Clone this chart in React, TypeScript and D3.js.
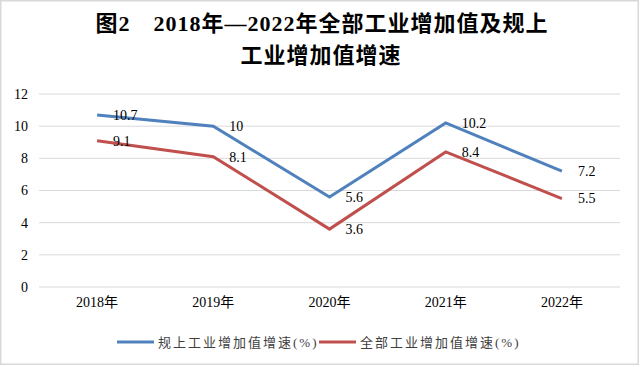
import * as React from 'react';
import { useEffect, useRef } from 'react';
import * as d3 from 'd3';

const years = ['2018年', '2019年', '2020年', '2021年', '2022年'];
const aboveScale = [10.7, 10, 5.6, 10.2, 7.2];
const allIndustry = [9.1, 8.1, 3.6, 8.4, 5.5];
const yTicks = [0, 2, 4, 6, 8, 10, 12];
const seriesNames = ['规上工业增加值增速(%)', '全部工业增加值增速(%)'];
const seriesColors = ['#4F81BD', '#C0504D'];

const W = 640, H = 367;
const serif = '"Liberation Serif", "Times New Roman", "Noto Sans CJK SC", serif';

export default function App() {
  const ref = useRef<SVGSVGElement | null>(null);

  useEffect(() => {
    if (!ref.current) return;
    const svg = d3.select(ref.current);
    svg.selectAll('*').remove();

    svg.append('rect')
      .attr('x', 0.75).attr('y', 0.75)
      .attr('width', 637.5).attr('height', 363.5)
      .attr('fill', '#fff')
      .attr('stroke', '#d9d9d9').attr('stroke-width', 1.5);

    // title
    const title = svg.append('g')
      .attr('font-family', serif)
      .attr('font-weight', 'bold')
      .attr('font-size', 22)
      .attr('letter-spacing', 1)
      .attr('fill', '#000')
      .attr('text-anchor', 'middle');
    title.append('text').attr('x', 322).attr('y', 31).attr('xml:space', 'preserve')
      .text('图2　2018年—2022年全部工业增加值及规上');
    title.append('text').attr('x', 321).attr('y', 63).text('工业增加值增速');

    const x = d3.scaleBand<string>().domain(years).range([39, 620]);
    const y = d3.scaleLinear().domain([0, 12]).range([287, 94]);

    // grid
    svg.append('g').selectAll('line').data(yTicks).join('line')
      .attr('x1', 39).attr('x2', 620)
      .attr('y1', d => y(d)).attr('y2', d => y(d))
      .attr('stroke', '#d9d9d9').attr('stroke-width', 1);

    const yAxis = d3.axisLeft(y).tickValues(yTicks).tickSize(0).tickPadding(0);
    const gy = svg.append('g').attr('transform', 'translate(28,0)').call(yAxis);
    gy.select('.domain').remove();
    gy.selectAll('text').attr('font-family', serif).attr('font-size', 14).attr('fill', '#000');

    const xAxis = d3.axisBottom(x).tickSize(0).tickPadding(0);
    const gx = svg.append('g').attr('transform', 'translate(0,297)').call(xAxis);
    gx.select('.domain').remove();
    gx.selectAll('text').attr('font-family', serif).attr('font-size', 14).attr('fill', '#000');

    const cx = (i: number) => (x(years[i]) as number) + x.bandwidth() / 2;
    const line = d3.line<number>().x((_, i) => cx(i)).y(d => y(d));

    [aboveScale, allIndustry].forEach((vals, s) => {
      svg.append('path')
        .attr('d', line(vals))
        .attr('fill', 'none')
        .attr('stroke', seriesColors[s])
        .attr('stroke-width', 3)
        .attr('stroke-linejoin', 'miter');
    });

    [aboveScale, allIndustry].forEach(vals => {
      svg.append('g').selectAll('text').data(vals).join('text')
        .attr('x', (_, i) => cx(i) + 16)
        .attr('y', d => y(d))
        .attr('dy', '0.35em')
        .attr('font-family', serif)
        .attr('font-size', 14)
        .attr('fill', '#000')
        .text(d => String(d));
    });

    // legend
    const lg = svg.append('g');
    const legendX = [117, 319];
    seriesNames.forEach((name, i) => {
      lg.append('line')
        .attr('x1', legendX[i]).attr('x2', legendX[i] + 37)
        .attr('y1', 342).attr('y2', 342)
        .attr('stroke', seriesColors[i]).attr('stroke-width', 3);
      lg.append('text')
        .attr('x', legendX[i] + 41).attr('y', 342).attr('dy', '0.35em')
        .attr('font-family', serif).attr('font-size', 13)
        .attr('letter-spacing', 2)
        .attr('fill', '#404040')
        .text(name);
    });
  }, []);

  return (
    <svg ref={ref} width={W} height={H}
      style={{ position: 'absolute', left: 0, top: 0, display: 'block' }} />
  );
}
